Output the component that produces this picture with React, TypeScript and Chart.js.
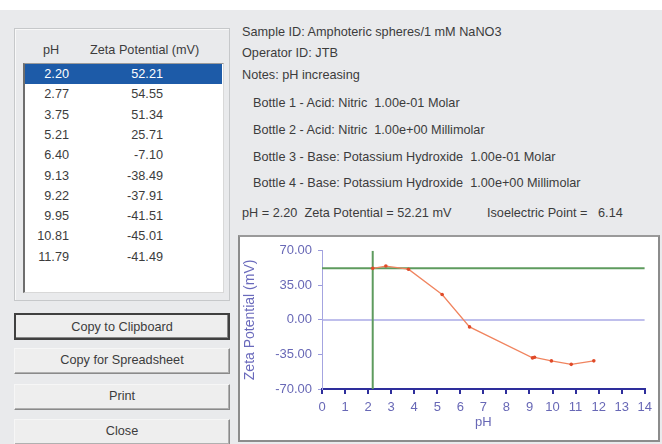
import React, { useEffect, useRef } from "react";
import { Chart, registerables } from "chart.js";

Chart.register(...registerables);

// ---- data ----
const phValues = [2.2, 2.77, 3.75, 5.21, 6.4, 9.13, 9.22, 9.95, 10.81, 11.79];
const zetaValues = [52.21, 54.55, 51.34, 25.71, -7.1, -38.49, -37.91, -41.51, -45.01, -41.49];
const phLabels = ["2.20", "2.77", "3.75", "5.21", "6.40", "9.13", "9.22", "9.95", "10.81", "11.79"];
const zetaLabels = ["52.21", "54.55", "51.34", "25.71", "-7.10", "-38.49", "-37.91", "-41.51", "-45.01", "-41.49"];
const selectedIndex = 0;
const xMin = 0;
const xMax = 14;
const yMin = -70;
const yMax = 70;
const yStep = 35;
const isoelectricPoint = "6.14";
const headerLines = [
  "Sample ID: Amphoteric spheres/1 mM NaNO3",
  "Operator ID: JTB",
  "Notes: pH increasing",
];
const bottleLines = [
  "Bottle 1 - Acid: Nitric  1.00e-01 Molar",
  "Bottle 2 - Acid: Nitric  1.00e+00 Millimolar",
  "Bottle 3 - Base: Potassium Hydroxide  1.00e-01 Molar",
  "Bottle 4 - Base: Potassium Hydroxide  1.00e+00 Millimolar",
];
const buttonLabels = ["Copy to Clipboard", "Copy for Spreadsheet", "Print", "Close"];

const FONT = '"Liberation Sans", Arial, sans-serif';

function ZetaChart() {
  const ref = useRef<HTMLCanvasElement | null>(null);
  useEffect(() => {
    if (!ref.current) return;
    const selX = phValues[selectedIndex];
    const selY = zetaValues[selectedIndex];
    const chart = new Chart(ref.current, {
      type: "scatter",
      data: {
        datasets: [
          {
            data: phValues.map((x, i) => ({ x, y: zetaValues[i] })),
            showLine: true,
            borderColor: "#f0845f",
            backgroundColor: "#e04a28",
            borderWidth: 1.3,
            pointRadius: 1.8,
            pointBorderWidth: 0,
            order: 0,
          },
          {
            data: [
              { x: selX, y: yMin },
              { x: selX, y: yMax },
            ],
            showLine: true,
            borderColor: "#5e9b5e",
            borderWidth: 2,
            pointRadius: 0,
            order: 1,
          },
          {
            data: [
              { x: xMin, y: selY },
              { x: xMax, y: selY },
            ],
            showLine: true,
            borderColor: "#5e9b5e",
            borderWidth: 2,
            pointRadius: 0,
            order: 1,
          },
          {
            data: [
              { x: xMin, y: 0 },
              { x: xMax, y: 0 },
            ],
            showLine: true,
            borderColor: "#aaaae6",
            borderWidth: 1.5,
            pointRadius: 0,
            order: 2,
          },
        ],
      },
      options: {
        animation: false,
        responsive: false,
        layout: { padding: { top: 12, right: 10, left: 0, bottom: 0 } },
        plugins: { legend: { display: false }, tooltip: { enabled: false } },
        scales: {
          x: {
            type: "linear",
            min: xMin,
            max: xMax,
            afterFit: (s: any) => {
              s.height = 51;
            },
            ticks: {
              stepSize: 1,
              color: "#6868b6",
              padding: 6,
              font: { family: FONT, size: 13 },
            },
            grid: {
              drawOnChartArea: false,
              drawTicks: true,
              tickLength: 5,
              color: "#2e2e9c",
              lineWidth: 2,
            },
            border: { color: "#2e2e9c", width: 2 },
            title: {
              display: true,
              text: "pH",
              color: "#6868b6",
              font: { family: FONT, size: 13 },
              padding: { top: 0, bottom: 10 },
            },
          },
          y: {
            type: "linear",
            min: yMin,
            max: yMax,
            afterFit: (s: any) => {
              s.width = 82;
            },
            ticks: {
              stepSize: yStep,
              color: "#6868b6",
              padding: 6,
              font: { family: FONT, size: 13 },
              callback: (v: any) => Number(v).toFixed(2),
            },
            grid: {
              drawOnChartArea: false,
              drawTicks: true,
              tickLength: 4,
              color: "#9c9cdc",
            },
            border: { color: "#a4a4e0", width: 1 },
            title: {
              display: true,
              text: "Zeta Potential (mV)",
              color: "#6a6abc",
              font: { family: FONT, size: 14 },
              padding: { top: 2, bottom: 0 },
            },
          },
        },
      },
    });
    return () => chart.destroy();
  }, []);
  return <canvas ref={ref} width={418} height={203} style={{ display: "block" }} />;
}

const abs = (left: number, top: number, extra: React.CSSProperties = {}): React.CSSProperties => ({
  position: "absolute",
  left,
  top,
  ...extra,
});

export default function App() {
  const rowTop = (i: number) => 64 + i * 20.3;
  const buttonTops = [313, 348, 384, 419];
  const buttonHeights = [27, 26, 26, 26];
  const bottleCenters = [103, 130, 157, 183];
  const headerCenters = [32, 53, 75];
  return (
    <div
      style={{
        position: "fixed",
        left: 0,
        top: 0,
        width: 662,
        height: 444,
        overflow: "hidden",
        background: "#e9eaec",
        fontFamily: FONT,
        fontSize: 12.7,
        color: "#3c3c3c",
      }}
    >
      <div style={abs(0, 0, { width: 662, height: 10, background: "#ffffff" })} />
      {/* group box */}
      <div
        style={abs(14, 28, {
          width: 214,
          height: 271,
          border: "1px solid #c6c8ca",
          boxShadow: "inset 1px 1px 0 #f8f8f8",
        })}
      />
      <div style={abs(43, 43, { lineHeight: "14px" })}>pH</div>
      <div style={abs(90, 43, { lineHeight: "14px" })}>Zeta Potential (mV)</div>
      {/* list box */}
      <div
        style={abs(23, 63, {
          width: 198,
          height: 228,
          background: "#ffffff",
          borderLeft: "2px solid #6e6e6e",
          borderTop: "1px solid #9a9a9a",
          borderRight: "1px solid #d8d8d8",
          borderBottom: "1px solid #d8d8d8",
        })}
      />
      {phLabels.map((p, i) => {
        const sel = i === selectedIndex;
        return (
          <div
            key={p + i}
            style={abs(25, rowTop(i), {
              width: 197,
              height: 20,
              lineHeight: "20px",
              background: sel ? "#1d5ba8" : "transparent",
              color: sel ? "#ffffff" : "#3c3c3c",
            })}
          >
            <span style={abs(0, 0, { width: 44, textAlign: "right" })}>{p}</span>
            <span style={abs(0, 0, { width: 138, textAlign: "right" })}>{zetaLabels[i]}</span>
          </div>
        );
      })}
      {/* buttons */}
      {buttonLabels.map((b, i) => (
        <div
          key={b}
          style={abs(14, buttonTops[i], {
            width: 216,
            height: buttonHeights[i],
            boxSizing: "border-box",
            background: "#eeeeee",
            border: i === 0 ? "2px solid #404040" : "1px solid #8a8a8a",
            borderTopColor: i === 0 ? "#404040" : "#f6f6f6",
            borderLeftColor: i === 0 ? "#404040" : "#f6f6f6",
            boxShadow: i === 0 ? "inset -1px -1px 0 #888" : "inset -1px -1px 0 #b0b0b0",
            textAlign: "center",
            lineHeight: `${buttonHeights[i] - 3}px`,
            color: "#3c3c3c",
          })}
        >
          {b}
        </div>
      ))}
      {/* info text */}
      {headerLines.map((t, i) => (
        <div key={t} style={abs(242, headerCenters[i] - 7, { lineHeight: "14px", whiteSpace: "pre" })}>
          {t}
        </div>
      ))}
      {bottleLines.map((t, i) => (
        <div key={t} style={abs(253, bottleCenters[i] - 7, { lineHeight: "14px", whiteSpace: "pre" })}>
          {t}
        </div>
      ))}
      <div style={abs(242, 206, { lineHeight: "14px", whiteSpace: "pre" })}>
        {`pH = ${phLabels[selectedIndex]}  Zeta Potential = ${zetaLabels[selectedIndex]} mV`}
      </div>
      <div style={abs(487, 206, { lineHeight: "14px", whiteSpace: "pre" })}>
        {`Isoelectric Point =   ${isoelectricPoint}`}
      </div>
      {/* chart box */}
      <div
        style={abs(238, 235, {
          width: 418,
          height: 203,
          background: "#ffffff",
          border: "2px solid #8c8c8c",
          borderTopColor: "#9a9a9a",
        })}
      >
        <ZetaChart />
      </div>
    </div>
  );
}
